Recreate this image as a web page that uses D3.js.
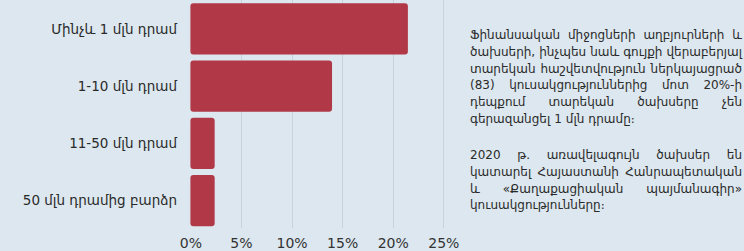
<!DOCTYPE html>
<html>
<head>
<meta charset="utf-8">
<script src="https://cdn.jsdelivr.net/npm/d3@7"></script>
<style>
	body { margin: 0; background: #dce7ef; }
	svg { display: block; font-family: "DejaVu Sans", sans-serif; }
</style>
</head>
<body>
<svg class="chart"></svg>
<script>
// data
var categories = ["Մինչև 1 մլն դրամ", "1-10 մլն դրամ", "11-50 մլն դրամ", "50 մլն դրամից բարձր"];
var shares = [21.5, 14.0, 2.4, 2.4];
var ticks = [0, 5, 10, 15, 20, 25];
var paragraphs = [
	[
		"Ֆինանսական միջոցների աղբյուրների և",
		"ծախսերի, ինչպես նաև գույքի վերաբերյալ",
		"տարեկան հաշվետվություն ներկայացրած",
		"(83) կուսակցություններից մոտ 20%-ի",
		"դեպքում տարեկան ծախսերը չեն",
		"գերազանցել 1 մլն դրամը։"
	],
	[
		"2020 թ. առավելագույն ծախսեր են",
		"կատարել Հայաստանի Հանրապետական",
		"և «Քաղաքացիական պայմանագիր»",
		"կուսակցությունները։"
	]
];

var svgWidth = 744,
	svgHeight = 251;

var chart = d3.select( ".chart" )
	.attr( "width", svgWidth )
	.attr( "height", svgHeight );

var x = d3.scaleLinear()
	.domain( [0, 25] )
	.range( [190.4, 443.3] );

var y = d3.scaleBand()
	.domain( categories )
	.range( [0, 229.5] )
	.paddingInner( 0.105 )
	.paddingOuter( 0.055 );

// grid
chart.selectAll( ".grid" )
	.data( ticks.filter( function(t) { return t > 0; } ) )
	.enter()
	.append( "line" )
	.attr( "x1", function(d) { return Math.round( x(d) ) + 0.5; } )
	.attr( "x2", function(d) { return Math.round( x(d) ) + 0.5; } )
	.attr( "y1", 0 )
	.attr( "y2", 228 )
	.attr( "stroke", "#c6d2dc" )
	.attr( "stroke-width", 1 );

// bars
chart.selectAll( ".bar" )
	.data( shares )
	.enter()
	.append( "rect" )
	.attr( "x", x(0) )
	.attr( "y", function(d, i) { return y( categories[i] ); } )
	.attr( "width", function(d) { return x(d) - x(0); } )
	.attr( "height", y.bandwidth() )
	.attr( "rx", 3 )
	.attr( "fill", "#b13947" );

// category labels
chart.selectAll( ".cat" )
	.data( categories )
	.enter()
	.append( "text" )
	.attr( "x", 177 )
	.attr( "y", function(d) { return y(d) + y.bandwidth() / 2; } )
	.attr( "dy", "0.35em" )
	.attr( "text-anchor", "end" )
	.attr( "font-size", 13.5 )
	.attr( "fill", "#2a2a2a" )
	.text( function(d) { return d; } );

// x axis
var axis = chart.append( "g" )
	.attr( "transform", "translate(0,243)" )
	.call( d3.axisBottom( x ).tickValues( ticks ).tickSize( 0 ).tickPadding( 0 )
		.tickFormat( function(d) { return d + "%"; } ) );
axis.select( ".domain" ).remove();
axis.selectAll( "text" )
	.attr( "dy", "0.35em" )
	.attr( "font-size", 14 )
	.attr( "font-family", "DejaVu Sans, sans-serif" )
	.attr( "fill", "#333" );

// side text, justified by hand
var textLeft = 470,
	textRight = 742,
	lineHeight = 16.7,
	minGap = 3.5,
	startY = [35, 155];

paragraphs.forEach( function( lines, p ) {
	lines.forEach( function( line, li ) {
		var words = line.split( " " );
		var yy = startY[p] + li * lineHeight;
		var g = chart.append( "g" );
		var nodes = words.map( function(w) {
			return g.append( "text" )
				.attr( "y", yy )
				.attr( "dy", "0.35em" )
				.attr( "font-size", 12 )
				.attr( "fill", "#2a2a2a" )
				.text( w );
		} );
		var widths = nodes.map( function(n) { return n.node().getComputedTextLength(); } );
		var total = d3.sum( widths );
		var last = li === lines.length - 1;
		var avail = textRight - textLeft;
		var k = 1;
		if( total + minGap * ( words.length - 1 ) > avail ) {
			k = ( avail - minGap * ( words.length - 1 ) ) / total;
		}
		var gap = ( !last && words.length > 1 ) ? ( avail - total * k ) / ( words.length - 1 ) : 4;
		var cx = textLeft;
		nodes.forEach( function(n, i) {
			n.attr( "x", cx );
			if( k < 1 ) n.attr( "textLength", widths[i] * k ).attr( "lengthAdjust", "spacingAndGlyphs" );
			cx += widths[i] * k + gap;
		} );
	} );
} );
</script>
</body>
</html>
